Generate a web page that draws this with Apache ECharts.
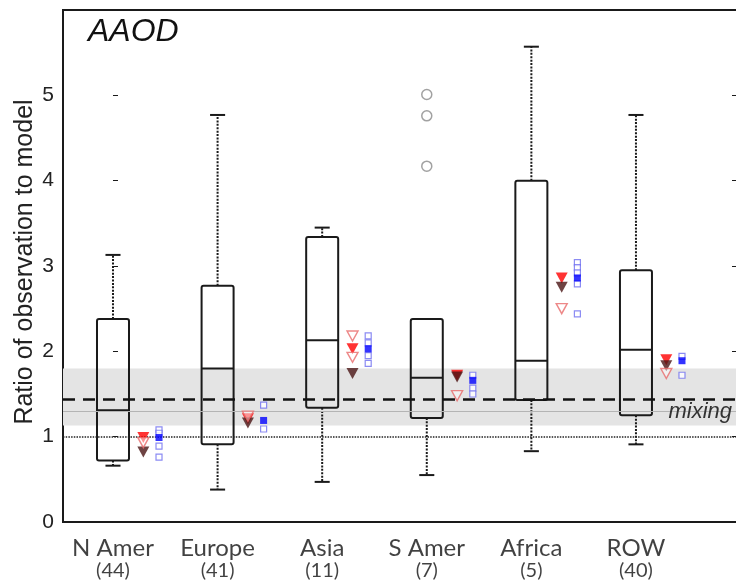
<!DOCTYPE html>
<html>
<head>
<meta charset="utf-8">
<script src="https://cdn.jsdelivr.net/npm/echarts@6/dist/echarts.min.js"></script>
<style>
  html, body { margin: 0; padding: 0; background: #fff; }
  #chart { width: 736px; height: 580px; }
</style>
</head>
<body>
<div id="chart"></div>
<script>
// Regions and number of sites in each
const regions = ['N Amer', 'Europe', 'Asia', 'S Amer', 'Africa', 'ROW'];
const siteCounts = [44, 41, 11, 7, 5, 40];

// Box statistics per region: [lower whisker, Q1, median, Q3, upper whisker]
const boxNAmer = [0.66, 0.72, 1.31, 2.38, 3.13];
const boxEurope = [0.38, 0.91, 1.80, 2.77, 4.77];
const boxAsia = [0.47, 1.34, 2.13, 3.34, 3.45];
const boxSAmer = [0.55, 1.22, 1.69, 2.38, 2.38];
const boxAfrica = [0.83, 1.43, 1.89, 4.00, 5.57];
const boxROW = [0.91, 1.25, 2.02, 2.95, 4.77];
const boxStats = [boxNAmer, boxEurope, boxAsia, boxSAmer, boxAfrica, boxROW];

// Outliers: [region index, ratio]
const outliers = [[3, 5.01], [3, 4.76], [3, 4.17]];

// Model-based ratios shown beside each box
const redTri = [0.99, 1.21, 2.03, 1.72, 2.86, 1.90];
const darkTri = [0.82, 1.16, 1.74, 1.70, 2.75, 1.83];
const openTri = [[0.93], [1.24], [2.18, 1.93], [1.48], [2.50], [1.74]];
const filledSq = [0.99, 1.19, 2.03, 1.66, 2.86, 1.89];
const openSq = [
  [1.08, 1.04, 0.89, 0.76],
  [1.37, 1.09],
  [2.18, 2.10, 1.95, 1.86],
  [1.72, 1.57, 1.50],
  [3.04, 2.98, 2.92, 2.79, 2.44],
  [1.94, 1.72]
];

// Reference levels
const mixingBand = [1.13, 1.80];
const mixingLine = 1.44;
const mixingRef = 1.30;
const unityLine = 1.0;
const yTicks = [0, 1, 2, 3, 4, 5];

const X_MIN = -0.478, X_MAX = 5.966;
const TRI_SHIFT = 0.29, SQ_SHIFT = 0.44;
const INK = '#1a1a1a';

function grouped(groups, shift) {
  const out = [];
  groups.forEach((vals, i) => vals.forEach(v => out.push([i + shift, v])));
  return out;
}

function renderBox(params, api) {
  const i = api.value(0);
  const pt = k => api.coord([i, api.value(k)]);
  const lo = pt(1), q1 = pt(2), med = pt(3), q3 = pt(4), hi = pt(5);
  const half = api.size([0.153, 0])[0];
  const cap = half * 0.47;
  const x = lo[0];
  const dotted = { stroke: INK, lineWidth: 2, lineDash: [2, 1.4], fill: null };
  const solid = { stroke: INK, lineWidth: 2, fill: null };
  const children = [
    { type: 'line', shape: { x1: x, y1: q1[1], x2: x, y2: lo[1] }, style: dotted },
    { type: 'line', shape: { x1: x - cap, y1: lo[1], x2: x + cap, y2: lo[1] }, style: solid }
  ];
  if (hi[1] < q3[1] - 0.5) {
    children.push({ type: 'line', shape: { x1: x, y1: q3[1], x2: x, y2: hi[1] }, style: dotted });
    children.push({ type: 'line', shape: { x1: x - cap, y1: hi[1], x2: x + cap, y2: hi[1] }, style: solid });
  }
  children.push({
    type: 'rect',
    shape: { x: x - half, y: q3[1], width: 2 * half, height: q1[1] - q3[1], r: 2 },
    style: { fill: 'none', stroke: INK, lineWidth: 2 }
  });
  children.push({ type: 'line', shape: { x1: x - half, y1: med[1], x2: x + half, y2: med[1] }, style: solid });
  return { type: 'group', children };
}

const chart = echarts.init(document.getElementById('chart'));

const option = {
  animation: false,
  backgroundColor: '#fff',
  grid: {
    left: 63, right: -1, top: 10, bottom: 58,
    containLabel: false, outerBoundsMode: 'none',
    show: true, borderColor: INK, borderWidth: 2, backgroundColor: 'transparent'
  },
  xAxis: {
    type: 'value', min: X_MIN, max: X_MAX,
    axisLine: { show: false }, axisTick: { show: false },
    axisLabel: { show: false }, splitLine: { show: false }
  },
  yAxis: [
    {
      type: 'value', min: 0, max: 6, interval: 1,
      axisLine: { show: false },
      axisTick: { show: true, inside: true, length: 5, lineStyle: { color: INK, width: 1 } },
      axisLabel: {
        margin: 9, fontSize: 21, color: '#222', fontFamily: 'Liberation Sans',
        formatter: v => (yTicks.indexOf(v) >= 0 ? String(v) : '')
      },
      splitLine: { show: false }
    },
    {
      type: 'value', min: 0, max: 6, interval: 1, position: 'right',
      axisLine: { show: false },
      axisTick: { show: true, inside: true, length: 5, lineStyle: { color: INK, width: 1 } },
      axisLabel: { show: false }, splitLine: { show: false }
    }
  ],
  series: [
    {
      // mixing band and reference lines
      type: 'scatter', data: [], z: 1, silent: true,
      markArea: {
        silent: true,
        itemStyle: { color: '#e4e4e4' },
        data: [[{ yAxis: mixingBand[0] }, { yAxis: mixingBand[1] }]]
      },
      markLine: {
        silent: true, symbol: 'none', label: { show: false },
        data: [
          { yAxis: mixingRef, lineStyle: { color: '#b4b4b4', width: 1, type: 'solid' } },
          { yAxis: unityLine, lineStyle: { color: '#222', width: 1.5, type: [1.5, 1.2] } },
          { yAxis: mixingLine, lineStyle: { color: '#111', width: 2.5, type: [12, 8] } }
        ]
      }
    },
    {
      type: 'custom', z: 3, silent: true,
      renderItem: renderBox,
      encode: { x: 0, y: [1, 2, 3, 4, 5] },
      data: boxStats.map((s, i) => [i].concat(s))
    },
    {
      type: 'scatter', z: 3, silent: true,
      symbol: 'circle', symbolSize: 10,
      itemStyle: { color: 'transparent', borderColor: '#8a8a8a', borderWidth: 1.5 },
      data: outliers
    },
    {
      type: 'scatter', z: 5, silent: true,
      symbol: 'triangle', symbolRotate: 180, symbolSize: [12, 11],
      itemStyle: { color: '#ff0000' },
      data: redTri.map((v, i) => [i + TRI_SHIFT, v])
    },
    {
      type: 'scatter', z: 6, silent: true,
      symbol: 'triangle', symbolRotate: 180, symbolSize: [12, 11],
      itemStyle: { color: '#4a1414' },
      data: darkTri.map((v, i) => [i + TRI_SHIFT, v])
    },
    {
      type: 'scatter', z: 7, silent: true,
      symbol: 'triangle', symbolRotate: 180, symbolSize: [11, 10],
      itemStyle: { color: 'rgba(255,255,255,0.6)', borderColor: '#e86a6a', borderWidth: 1.4 },
      data: grouped(openTri, TRI_SHIFT)
    },
    {
      type: 'scatter', z: 5, silent: true,
      symbol: 'rect', symbolSize: 6,
      itemStyle: { color: '#fff', borderColor: '#6e6ef0', borderWidth: 1.2 },
      data: grouped(openSq, SQ_SHIFT)
    },
    {
      type: 'scatter', z: 6, silent: true,
      symbol: 'rect', symbolSize: 7,
      itemStyle: { color: '#0000ff' },
      data: filledSq.map((v, i) => [i + SQ_SHIFT, v])
    },
    {
      // region names with site counts under the axis
      type: 'scatter', z: 8, silent: true, clip: false,
      symbolSize: 0,
      data: regions.map((r, i) => [i, 0]),
      label: {
        show: true, position: 'bottom', distance: 14,
        formatter: p => '{n|' + regions[p.dataIndex] + '}\n{c|(' + siteCounts[p.dataIndex] + ')}',
        rich: {
          n: { fontFamily: 'Lato', fontSize: 24, lineHeight: 24, color: '#111', align: 'center' },
          c: { fontFamily: 'Lato', fontSize: 20, lineHeight: 22, color: '#111', align: 'center' }
        }
      }
    }
  ]
};

chart.setOption(option);

// Annotations: panel title, y-axis title and the "mixing" tag
const tagPos = chart.convertToPixel({ gridIndex: 0 }, [X_MAX, mixingRef]);
chart.setOption({
  graphic: [
    {
      type: 'text', left: 88, top: 16, z: 10,
      style: { text: 'AAOD', fontFamily: 'Liberation Sans', fontStyle: 'italic', fontSize: 32, fill: '#111' }
    },
    {
      type: 'text', x: 25, y: 262, rotation: Math.PI / 2, z: 10,
      style: {
        text: 'Ratio of observation to model', fontFamily: 'Liberation Sans', fontSize: 25,
        fill: '#222', align: 'center', verticalAlign: 'middle'
      }
    },
    {
      type: 'text', x: tagPos[0] - 5, y: tagPos[1] + 1, z: 10,
      style: {
        text: 'mixing', fontFamily: 'Liberation Sans', fontStyle: 'italic', fontSize: 22,
        fill: '#333', align: 'right', verticalAlign: 'middle'
      }
    }
  ]
});
</script>
</body>
</html>
